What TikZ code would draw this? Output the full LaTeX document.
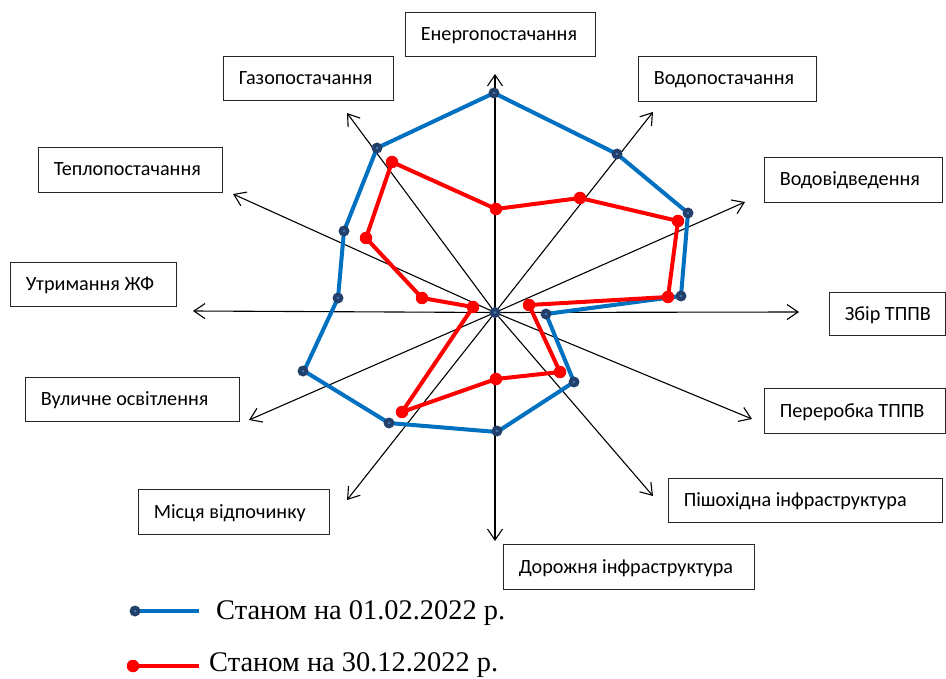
\documentclass[tikz,border=0pt]{standalone}
\usepackage{fontspec}
\setmainfont{Carlito}
\newfontfamily\legendfont{Liberation Serif}
\usetikzlibrary{arrows.meta}
\definecolor{serblue}{HTML}{0070C0}
\definecolor{sernavy}{HTML}{22406A}
\definecolor{sercore}{HTML}{4A78B8}
\definecolor{serred}{HTML}{FF0000}
\tikzset{
  labelbox/.style={draw=black!85, line width=0.8pt, fill=white, inner sep=0pt, minimum height=44pt},
  labeltext/.style={anchor=base west, inner sep=0pt, font=\fontsize{20.2}{23}\selectfont},
  axis/.style={draw=black, line width=1.1pt, -{Straight Barb[length=11pt,width=15pt,line width=1.1pt]}},
  blueline/.style={draw=serblue, line width=4pt},
  redline/.style={draw=serred, line width=4pt},
  bluemark/.style={circle, fill=sernavy, inner sep=0pt, minimum size=11pt},
  redmark/.style={circle, fill=serred, inner sep=0pt, minimum size=12.5pt},
  legtext/.style={anchor=west, inner sep=0pt, font=\legendfont\fontsize{28.4}{32}\selectfont}
}
\newcommand{\bmark}[2]{\node[bluemark] (#2) at #1 {}; \fill[sercore] #1 circle (1.4pt);}
\newcommand{\lbox}[5]{% name, centre, width, height, text
  \node[labelbox, minimum width=#3pt, minimum height=#4pt] (#1) at #2 {};
  \node[labeltext] (#1t) at ([xshift=16pt, yshift=-6.5pt]#1.west) {#5};}
\begin{document}
\begin{tikzpicture}[x=1pt,y=-1pt]
\useasboundingbox (0,0) rectangle (946,679);
\fill[white] (0,0) rectangle (946,679);

% centre and axis tips
\coordinate (c) at (495,312.5);
\coordinate (tEn) at (495,74);
\coordinate (tVp) at (653,112);
\coordinate (tVv) at (745,202);
\coordinate (tZb) at (799,312);
\coordinate (tPe) at (752,419);
\coordinate (tPi) at (653,496);
\coordinate (tDo) at (495,541);
\coordinate (tMi) at (347,500);
\coordinate (tVu) at (249,420);
\coordinate (tUt) at (193,311);
\coordinate (tTe) at (233,194);
\coordinate (tGa) at (347,113);

\foreach \t in {tEn,tVp,tVv,tZb,tPe,tPi,tDo,tMi,tVu,tUt,tTe,tGa}
  \draw[axis] (c) -- (\t);

% label boxes
\lbox{en}{(500,34)}{190}{44}{Енергопостачання}
\lbox{ga}{(308,78)}{170}{44}{Газопостачання}
\lbox{vp}{(727,78.5)}{178}{45}{Водопостачання}
\lbox{vv}{(853,179.5)}{178}{45}{Водовідведення}
\lbox{te}{(130,169.5)}{184}{45}{Теплопостачання}
\lbox{ut}{(93,284)}{166}{44}{Утримання ЖФ}
\lbox{zb}{(887,313.5)}{116}{43}{Збір ТППВ}
\lbox{pe}{(854.5,410.5)}{181}{45}{Переробка ТППВ}
\lbox{pi}{(805,500)}{274}{44}{Пішохідна інфраструктура}
\lbox{do}{(628.5,566.5)}{251}{45}{Дорожня інфраструктура}
\lbox{vu}{(132,399)}{214}{44}{Вуличне освітлення}
\lbox{mi}{(233.5,511.5)}{191}{45}{Місця відпочинку}

% series 1: 01.02.2022
\draw[blueline] (494,93) -- (617,154) -- (688,213) -- (681,296) -- (546,314) -- (574,382)
  -- (497,432) -- (389,423) -- (304,371) -- (338,298) -- (344,231) -- (377,148) -- cycle;
\bmark{(494,93)}{b1}
\bmark{(617,154)}{b2}
\bmark{(688,213)}{b3}
\bmark{(681,296)}{b4}
\bmark{(546,314)}{b5}
\bmark{(574,382)}{b6}
\bmark{(497,431)}{b7}
\bmark{(389,423)}{b8}
\bmark{(303,371)}{b9}
\bmark{(338,298)}{b10}
\bmark{(344,231)}{b11}
\bmark{(377,148)}{b12}

% series 2: 30.12.2022
\draw[redline] (496,209) -- (580,198) -- (678,221) -- (668,297) -- (529,305) -- (560,372)
  -- (496,379) -- (402,412) -- (473,307) -- (422,298) -- (366,238) -- (392,162) -- cycle;
\foreach \p [count=\i] in {(496,209),(580,198),(678,221),(668,297),(529,305),(560,372),
  (496,379),(402,412),(473,307),(422,298),(366,238),(392,162)}
  \node[redmark] (r\i) at \p {};

\bmark{(495,312.5)}{b0}

% legend
\coordinate (l1a) at (135,611);
\coordinate (l1b) at (199,611);
\draw[draw=serblue, line width=3.5pt] (l1a) -- (l1b);
\bmark{(135,611)}{lb}
\node[legtext] (lt1) at (216,613) {Станом на 01.02.2022 р.};

\coordinate (l2a) at (133,666);
\coordinate (l2b) at (199,666);
\draw[draw=serred, line width=3.5pt] (l2a) -- (l2b);
\node[redmark] (lr) at (l2a) {};
\node[legtext] (lt2) at (209,665) {Станом на 30.12.2022 р.};
\end{tikzpicture}
\end{document}
